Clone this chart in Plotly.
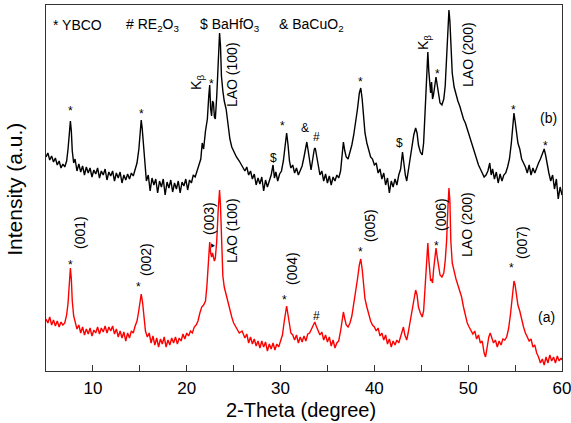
import plotly.graph_objects as go

# ---- data: sample (b) (black, upper) as (2theta, intensity a.u.) ----
pattern_b = [
    (5.0, 214), (5.2, 218), (5.4, 211), (5.6, 215), (5.8, 209), (6.0, 213), (6.2, 206), (6.4, 210), (6.6, 203), (6.8, 207),
    (7.0, 204), (7.2, 210), (7.35, 222), (7.5, 240), (7.6, 250), (7.7, 240), (7.8, 220), (7.95, 208), (8.1, 212), (8.3, 200),
    (8.5, 207), (8.7, 199), (8.9, 205), (9.1, 196), (9.3, 204), (9.5, 198), (9.7, 203), (9.9, 194), (10.1, 201), (10.3, 197),
    (10.5, 203), (10.7, 193), (10.9, 200), (11.1, 196), (11.3, 202), (11.5, 191), (11.7, 199), (11.9, 195), (12.1, 200), (12.3, 190),
    (12.5, 198), (12.7, 193), (12.9, 199), (13.1, 188), (13.3, 196), (13.5, 191), (13.7, 197), (13.9, 192), (14.1, 198), (14.3, 195),
    (14.5, 201), (14.7, 208), (14.9, 222), (15.05, 242), (15.15, 251), (15.25, 243), (15.4, 222), (15.55, 204), (15.7, 190), (15.9, 196),
    (16.1, 180), (16.3, 193), (16.5, 186), (16.7, 192), (16.9, 178), (17.1, 190), (17.3, 184), (17.5, 192), (17.7, 176), (17.9, 189),
    (18.1, 183), (18.3, 191), (18.5, 179), (18.7, 188), (18.9, 182), (19.1, 190), (19.3, 178), (19.5, 189), (19.7, 185), (19.9, 192),
    (20.1, 181), (20.3, 191), (20.5, 188), (20.7, 196), (20.9, 194), (21.1, 200), (21.3, 206), (21.5, 212), (21.65, 228), (21.8, 222),
    (22.0, 240), (22.2, 252), (22.35, 275), (22.45, 286), (22.55, 262), (22.65, 255), (22.75, 270), (22.85, 268), (22.95, 254), (23.05, 252),
    (23.2, 275), (23.35, 315), (23.5, 338), (23.6, 325), (23.7, 295), (23.85, 280), (24.0, 270), (24.2, 262), (24.4, 245), (24.6, 232),
    (24.8, 224), (25.0, 220), (25.3, 214), (25.6, 210), (25.9, 205), (26.2, 200), (26.4, 204), (26.6, 196), (26.8, 200), (27.0, 192),
    (27.2, 197), (27.4, 186), (27.6, 193), (27.8, 187), (28.0, 194), (28.2, 180), (28.4, 191), (28.6, 184), (28.8, 190), (29.0, 196),
    (29.2, 206), (29.35, 193), (29.5, 199), (29.7, 190), (29.9, 197), (30.1, 200), (30.3, 210), (30.5, 228), (30.65, 238), (30.8, 226),
    (30.95, 210), (31.1, 203), (31.3, 206), (31.5, 198), (31.7, 203), (31.9, 196), (32.1, 201), (32.3, 205), (32.5, 214), (32.7, 224),
    (32.8, 229), (32.95, 220), (33.1, 208), (33.25, 201), (33.4, 210), (33.6, 222), (33.7, 223), (33.85, 215), (34.0, 205), (34.2, 196),
    (34.4, 200), (34.6, 190), (34.8, 197), (35.0, 188), (35.2, 195), (35.4, 186), (35.6, 194), (35.8, 190), (36.0, 196), (36.2, 193),
    (36.4, 200), (36.55, 215), (36.7, 229), (36.85, 220), (37.0, 214), (37.2, 212), (37.4, 218), (37.6, 226), (37.8, 236), (38.0, 248),
    (38.2, 262), (38.4, 278), (38.55, 283), (38.7, 272), (38.85, 252), (39.0, 238), (39.2, 228), (39.4, 220), (39.6, 214), (39.8, 212),
    (40.0, 206), (40.2, 208), (40.4, 198), (40.6, 202), (40.8, 192), (41.0, 198), (41.2, 186), (41.4, 193), (41.6, 178), (41.8, 190),
    (42.0, 184), (42.2, 192), (42.4, 186), (42.6, 196), (42.8, 202), (43.0, 219), (43.15, 205), (43.3, 196), (43.45, 190), (43.6, 200),
    (43.8, 212), (44.0, 222), (44.2, 236), (44.4, 243), (44.55, 238), (44.7, 226), (44.9, 219), (45.1, 216), (45.25, 228), (45.4, 258),
    (45.55, 290), (45.7, 319), (45.8, 300), (45.9, 288), (46.0, 278), (46.1, 289), (46.2, 272), (46.3, 276), (46.45, 288), (46.57, 294),
    (46.7, 286), (46.85, 274), (47.0, 268), (47.2, 266), (47.4, 272), (47.55, 285), (47.7, 310), (47.85, 345), (47.95, 361), (48.05, 350),
    (48.15, 322), (48.3, 298), (48.5, 284), (48.7, 276), (48.9, 270), (49.1, 265), (49.3, 258), (49.5, 252), (49.7, 248), (49.9, 242),
    (50.1, 236), (50.3, 228), (50.5, 222), (50.7, 216), (50.9, 210), (51.1, 206), (51.3, 202), (51.5, 198), (51.7, 194), (51.9, 196),
    (52.1, 200), (52.3, 208), (52.45, 196), (52.6, 202), (52.8, 192), (53.0, 199), (53.2, 188), (53.4, 197), (53.6, 190), (53.8, 196),
    (54.0, 198), (54.2, 204), (54.4, 212), (54.6, 228), (54.75, 248), (54.88, 258), (55.0, 250), (55.15, 236), (55.3, 228), (55.5, 222),
    (55.7, 212), (55.9, 208), (56.1, 204), (56.3, 198), (56.5, 206), (56.7, 196), (56.9, 203), (57.1, 198), (57.3, 204), (57.5, 208),
    (57.7, 212), (57.9, 218), (58.1, 222), (58.25, 216), (58.4, 206), (58.6, 198), (58.8, 190), (59.0, 196), (59.2, 182), (59.4, 192),
    (59.6, 172), (59.8, 184), (60.0, 176),
]

# ---- data: sample (a) (red, lower) ----
pattern_a = [
    (5.0, 52), (5.2, 48), (5.4, 54), (5.6, 46), (5.8, 51), (6.0, 45), (6.2, 50), (6.4, 44), (6.6, 49), (6.8, 46),
    (7.0, 48), (7.2, 56), (7.35, 68), (7.5, 92), (7.6, 103), (7.7, 92), (7.8, 70), (7.95, 55), (8.1, 48), (8.3, 42),
    (8.5, 46), (8.7, 38), (8.9, 44), (9.1, 36), (9.3, 42), (9.5, 37), (9.7, 43), (9.9, 35), (10.1, 41), (10.3, 38),
    (10.5, 44), (10.7, 37), (10.9, 43), (11.1, 39), (11.3, 45), (11.5, 38), (11.7, 44), (11.9, 40), (12.1, 45), (12.3, 37),
    (12.5, 42), (12.7, 34), (12.9, 40), (13.1, 33), (13.3, 39), (13.5, 30), (13.7, 38), (13.9, 33), (14.1, 40), (14.3, 38),
    (14.5, 45), (14.7, 50), (14.85, 58), (15.0, 70), (15.15, 77), (15.3, 68), (15.45, 52), (15.6, 40), (15.8, 34), (16.0, 38),
    (16.2, 28), (16.4, 35), (16.6, 26), (16.8, 33), (17.0, 24), (17.2, 32), (17.4, 27), (17.6, 34), (17.8, 24), (18.0, 31),
    (18.2, 26), (18.4, 33), (18.6, 28), (18.8, 34), (19.0, 27), (19.2, 33), (19.4, 30), (19.6, 37), (19.8, 32), (20.0, 38),
    (20.2, 35), (20.4, 40), (20.6, 38), (20.8, 44), (21.0, 46), (21.2, 50), (21.4, 58), (21.6, 64), (21.8, 66), (22.0, 70),
    (22.15, 85), (22.3, 110), (22.45, 129), (22.55, 118), (22.65, 114), (22.75, 118), (22.85, 115), (22.95, 110), (23.05, 113), (23.2, 130),
    (23.35, 160), (23.5, 181), (23.6, 165), (23.7, 125), (23.85, 95), (24.0, 84), (24.2, 76), (24.4, 68), (24.6, 61), (24.8, 54),
    (25.0, 48), (25.3, 43), (25.6, 38), (25.9, 40), (26.2, 33), (26.4, 37), (26.6, 28), (26.8, 34), (27.0, 27), (27.2, 32),
    (27.4, 25), (27.6, 30), (27.8, 23), (28.0, 30), (28.2, 24), (28.4, 29), (28.6, 20), (28.8, 27), (29.0, 22), (29.2, 28),
    (29.4, 21), (29.6, 27), (29.8, 24), (30.0, 30), (30.2, 36), (30.4, 50), (30.55, 62), (30.65, 65), (30.8, 56), (30.95, 44),
    (31.1, 38), (31.3, 36), (31.5, 31), (31.7, 36), (31.9, 28), (32.1, 34), (32.3, 29), (32.5, 35), (32.7, 30), (32.9, 37),
    (33.1, 38), (33.3, 42), (33.5, 46), (33.65, 49), (33.8, 45), (34.0, 40), (34.2, 36), (34.4, 39), (34.6, 31), (34.8, 36),
    (35.0, 29), (35.2, 34), (35.4, 25), (35.6, 31), (35.8, 23), (36.0, 28), (36.2, 30), (36.4, 40), (36.55, 52), (36.7, 59),
    (36.85, 52), (37.0, 46), (37.2, 44), (37.4, 48), (37.6, 55), (37.8, 66), (38.0, 78), (38.2, 92), (38.4, 106), (38.55, 112),
    (38.7, 102), (38.85, 84), (39.0, 72), (39.2, 64), (39.4, 56), (39.6, 50), (39.8, 46), (40.0, 44), (40.2, 40), (40.4, 43),
    (40.6, 35), (40.8, 38), (41.0, 31), (41.2, 36), (41.4, 27), (41.6, 32), (41.8, 24), (42.0, 30), (42.2, 26), (42.4, 31),
    (42.6, 28), (42.8, 34), (43.0, 40), (43.1, 44), (43.25, 36), (43.45, 31), (43.6, 38), (43.8, 48), (44.0, 58), (44.2, 72),
    (44.4, 81), (44.55, 76), (44.7, 64), (44.9, 58), (45.1, 54), (45.25, 60), (45.4, 80), (45.55, 105), (45.7, 128), (45.8, 112),
    (45.9, 96), (46.0, 90), (46.1, 92), (46.2, 88), (46.3, 100), (46.45, 118), (46.57, 123), (46.7, 114), (46.85, 102), (47.0, 96),
    (47.2, 94), (47.4, 98), (47.55, 110), (47.7, 130), (47.85, 165), (47.95, 183), (48.05, 170), (48.15, 130), (48.3, 108), (48.5, 98),
    (48.7, 92), (48.9, 86), (49.1, 80), (49.3, 74), (49.5, 64), (49.7, 54), (49.9, 48), (50.1, 44), (50.3, 40), (50.5, 37),
    (50.7, 40), (50.9, 32), (51.1, 36), (51.3, 28), (51.5, 30), (51.7, 18), (51.85, 14), (52.0, 24), (52.2, 34), (52.35, 38),
    (52.5, 33), (52.7, 28), (52.9, 31), (53.1, 24), (53.3, 30), (53.5, 26), (53.7, 32), (53.9, 31), (54.1, 34), (54.3, 42),
    (54.5, 56), (54.7, 78), (54.88, 90), (55.0, 86), (55.15, 74), (55.3, 66), (55.5, 60), (55.7, 50), (55.9, 44), (56.1, 38),
    (56.3, 34), (56.5, 30), (56.7, 32), (56.9, 24), (57.1, 26), (57.3, 18), (57.5, 14), (57.7, 8), (57.9, 12), (58.1, 6),
    (58.3, 14), (58.5, 8), (58.7, 16), (58.9, 10), (59.1, 14), (59.3, 8), (59.5, 15), (59.7, 10), (59.9, 13), (60.0, 11),
]

x_ticks = [10, 20, 30, 40, 50, 60]

# phase legend (top row)
phase_text = ["* YBCO", "# RE<sub>2</sub>O<sub>3</sub>", "$ BaHfO<sub>3</sub>", "& BaCuO<sub>2</sub>"]
phase_x = [8.41, 16.40, 24.61, 33.25]

# peak labels: text, 2theta, intensity, rotation
labels_b_text = ["*", "*", "K<sub>β</sub>", "*", "LAO (100)", "$", "*", "&", "#", "*", "$",
                 "K<sub>β</sub>", "*", "LAO (200)", "*", "(b)", "*"]
labels_b_x = [7.66, 15.23, 21.09, 22.69, 24.83, 29.20, 30.26, 32.61, 33.78, 38.57, 42.73,
              45.29, 46.68, 49.98, 54.88, 58.51, 58.19]
labels_b_y = [260, 257, 289, 287, 296, 213, 245, 243, 234, 289, 228,
              329, 297, 317, 261, 253, 225]
labels_b_rot = [0, 0, -90, 0, -90, 0, 0, 0, 0, 0, 0, -90, 0, -90, 0, 0, 0]

labels_a_text = ["*", "(001)", "*", "(002)", "(003)", "▲", "LAO (100)", "*", "(004)", "#",
                 "*", "(005)", "*", "(006)", "LAO (200)", "*", "(007)", "(a)"]
labels_a_x = [7.66, 8.62, 14.81, 15.66, 22.37, 22.69, 24.83, 30.37, 31.22, 33.78,
              38.57, 39.53, 46.57, 47.10, 49.87, 54.67, 55.74, 58.40]
labels_a_y = [106, 139, 84, 111, 153, 127, 140, 71, 103, 55,
              119, 146, 125, 157, 147, 103, 128, 54]
labels_a_rot = [0, -90, 0, -90, -90, -30, -90, 0, -90, 0, 0, -90, 0, -90, -90, 0, -90, 0]

FONT = "Arial, 'Liberation Sans', sans-serif"

fig = go.Figure()
fig.add_trace(go.Scatter(x=[p[0] for p in pattern_b], y=[p[1] for p in pattern_b],
                         mode="lines", line=dict(color="#000000", width=1.4), name="(b)"))
fig.add_trace(go.Scatter(x=[p[0] for p in pattern_a], y=[p[1] for p in pattern_a],
                         mode="lines", line=dict(color="#ff0000", width=1.4), name="(a)"))

annotations = []
for t, x in zip(phase_text, phase_x):
    annotations.append(dict(x=x, y=346, xref="x", yref="y", text=t, showarrow=False,
                            font=dict(size=14, color="#000", family=FONT)))
for texts, xs, ys, rots in [(labels_b_text, labels_b_x, labels_b_y, labels_b_rot),
                            (labels_a_text, labels_a_x, labels_a_y, labels_a_rot)]:
    for t, x, y, r in zip(texts, xs, ys, rots):
        size = 14 if r == -90 or t in ("(a)", "(b)") else 12
        if t == "▲":
            size = 7
        annotations.append(dict(x=x, y=y, xref="x", yref="y", text=t, showarrow=False,
                                textangle=r, font=dict(size=size, color="#000", family=FONT)))

# axis titles
annotations.append(dict(x=0.5, y=0, xref="paper", yref="paper", yshift=-39, xshift=-3,
                        xanchor="center", yanchor="middle", text="2-Theta (degree)", showarrow=False,
                        font=dict(size=20, color="#000", family=FONT)))
annotations.append(dict(x=0, y=0.495, xref="paper", yref="paper", xshift=-31,
                        xanchor="center", yanchor="middle",
                        text="Intensity (a.u.)", showarrow=False, textangle=-90,
                        font=dict(size=21, color="#000", family=FONT)))

fig.update_layout(
    width=571, height=423,
    margin=dict(l=46, r=9, t=5, b=52),
    paper_bgcolor="white", plot_bgcolor="white",
    showlegend=False,
    font=dict(family=FONT, color="#000"),
    annotations=annotations,
    xaxis=dict(range=[5, 60], tickvals=x_ticks, ticks="inside", ticklen=6, tickwidth=1,
               tickcolor="#333", showline=True, linecolor="#333", linewidth=1, mirror=True,
               showgrid=False, zeroline=False, tickfont=dict(size=17), automargin=False,
               ticklabelstandoff=2, ticklabeloverflow="allow",
               minor=dict(dtick=5, tick0=5, ticks="inside", ticklen=6, tickcolor="#333", showgrid=False)),
    yaxis=dict(range=[0, 366], showticklabels=False, ticks="", showline=True, linecolor="#333",
               linewidth=1, mirror=True, showgrid=False, zeroline=False, automargin=False),
)

fig.write_html("out.html", config={"displayModeBar": False},
               post_script="document.body.style.margin='0';")
